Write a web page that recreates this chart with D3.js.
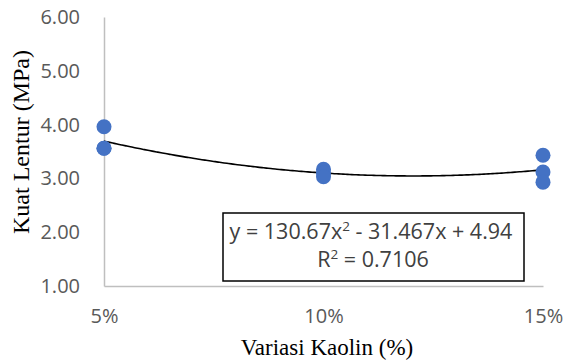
<!DOCTYPE html>
<html>
<head>
<meta charset="utf-8">
<script src="https://cdn.jsdelivr.net/npm/d3@7"></script>
<style>
  html, body { margin: 0; padding: 0; background: #fff; }
  svg { display: block; }
</style>
</head>
<body>
<svg id="chart" width="566" height="363"></svg>
<script>
// Kaolin content (fraction) for each specimen
const kaolin = [0.05, 0.05, 0.05, 0.10, 0.10, 0.10, 0.15, 0.15, 0.15];
// Flexural strength (MPa) for each specimen
const kuatLentur = [3.96, 3.56, 3.56, 3.17, 3.10, 3.03, 3.43, 3.12, 2.93];
// Axis tick values
const xTicks = [0.05, 0.10, 0.15];
const yTicks = [1, 2, 3, 4, 5, 6];
// Polynomial trend line coefficients: y = a x^2 + b x + c
const trendCoef = [130.67, -31.467, 4.94];
const rSquared = 0.7106;

const svg = d3.select("#chart");
const x = d3.scaleLinear().domain([0.05, 0.15]).range([104, 543]);
const y = d3.scaleLinear().domain([1, 6]).range([286, 17]);

const tickFont = "'Open Sans', sans-serif";
const tickColor = "#595959";
const axisColor = "#bfbfbf";
const titleFont = "'Liberation Serif', 'Times New Roman', serif";

// Y axis
const yAxis = svg.append("g")
  .attr("transform", `translate(${x(0.05)},0)`)
  .call(d3.axisLeft(y).tickValues(yTicks).tickFormat(d3.format(".2f")).tickSize(0).tickPadding(24));
yAxis.select(".domain").attr("stroke", axisColor).attr("stroke-width", 1.5);
yAxis.selectAll("text")
  .attr("fill", tickColor).style("font-family", tickFont).style("font-size", "20px");

// X axis
const xAxis = svg.append("g")
  .attr("transform", `translate(0,${y(1)})`)
  .call(d3.axisBottom(x).tickValues(xTicks).tickFormat(d3.format(".0%")).tickSize(0).tickPadding(23));
xAxis.select(".domain").attr("stroke", axisColor).attr("stroke-width", 1.5);
xAxis.selectAll("text")
  .attr("fill", tickColor).style("font-family", tickFont).style("font-size", "20px");

// Axis titles
svg.append("text")
  .attr("x", 327).attr("y", 355)
  .attr("text-anchor", "middle")
  .style("font-family", titleFont)
  .style("font-size", "23px")
  .attr("fill", "#000")
  .text("Variasi Kaolin (%)");

svg.append("text")
  .attr("transform", "translate(29,142) rotate(-90)")
  .attr("text-anchor", "middle")
  .style("font-family", titleFont)
  .style("font-size", "24px")
  .attr("fill", "#000")
  .text("Kuat Lentur (MPa)");

// Trend line
const trend = v => trendCoef[0] * v * v + trendCoef[1] * v + trendCoef[2];
const trendPts = d3.range(0, 101).map(i => 0.05 + i * 0.001);
svg.append("path")
  .datum(trendPts)
  .attr("fill", "none")
  .attr("stroke", "#000")
  .attr("stroke-width", 1.6)
  .attr("d", d3.line().x(d => x(d)).y(d => y(trend(d))).curve(d3.curveMonotoneX));

// Data points
svg.append("g").selectAll("circle")
  .data(kaolin.map((k, i) => ({ k, v: kuatLentur[i] })))
  .join("circle")
  .attr("cx", d => x(d.k))
  .attr("cy", d => y(d.v))
  .attr("r", 7.5)
  .attr("fill", "#4472c4");

// Equation label
const box = svg.append("g");
box.append("rect")
  .attr("x", 223).attr("y", 213).attr("width", 301).attr("height", 68)
  .attr("fill", "#fff").attr("stroke", "#000").attr("stroke-width", 1.5);
const eq = box.append("text")
  .attr("x", 371).attr("y", 239)
  .attr("text-anchor", "middle")
  .style("font-family", tickFont).style("font-size", "21.5px").attr("fill", "#404040");
eq.append("tspan").text(`y = ${trendCoef[0]}x`);
eq.append("tspan").attr("dy", -8).style("font-size", "13.5px").text("2");
eq.append("tspan").attr("dy", 8).text(` - ${Math.abs(trendCoef[1])}x + ${trendCoef[2]}`);
const r2 = box.append("text")
  .attr("x", 373).attr("y", 267)
  .attr("text-anchor", "middle")
  .style("font-family", tickFont).style("font-size", "21.5px").attr("fill", "#404040");
r2.append("tspan").text("R");
r2.append("tspan").attr("dy", -8).style("font-size", "13.5px").text("2");
r2.append("tspan").attr("dy", 8).text(` = ${rSquared}`);
</script>
</body>
</html>
